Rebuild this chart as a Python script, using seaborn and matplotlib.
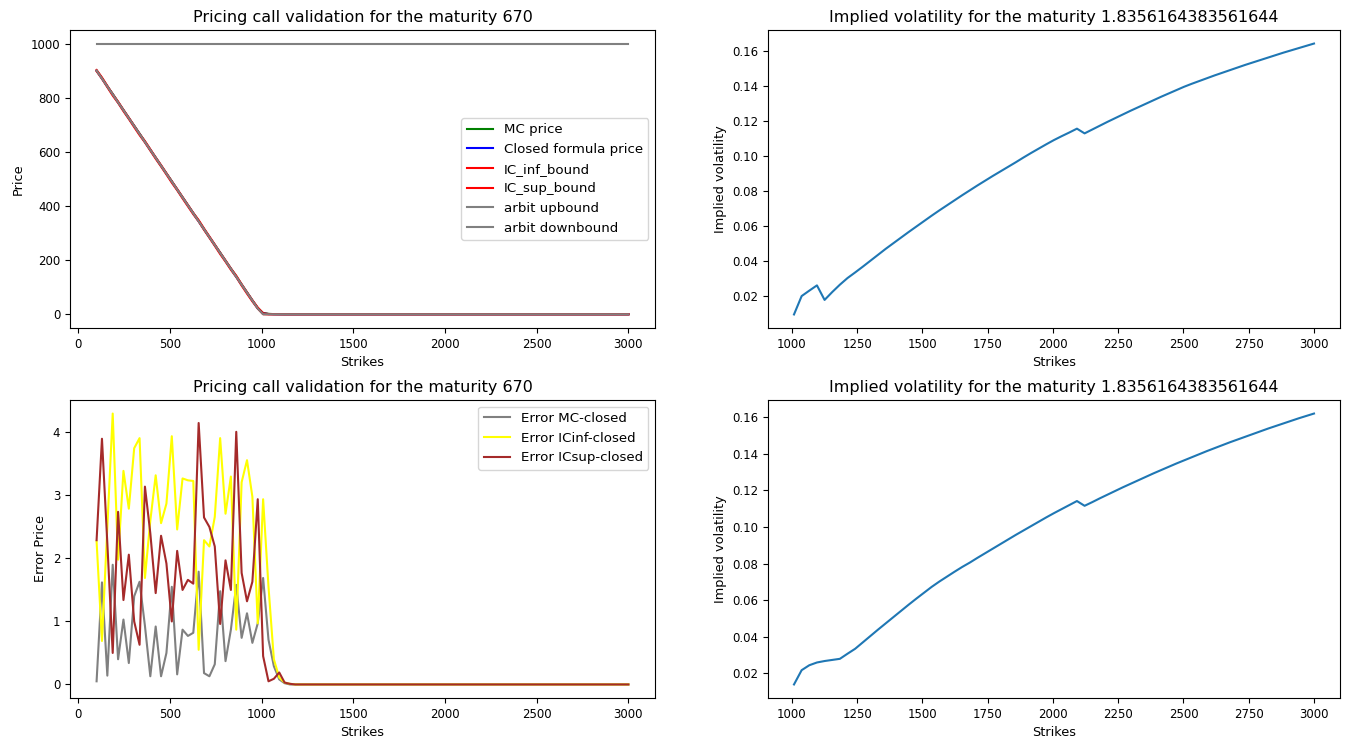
import numpy as np
import matplotlib
matplotlib.use("Agg")
import matplotlib.pyplot as plt
import seaborn as sns

# ---------------- data ----------------
strikes = np.linspace(100, 3000, 100)

# closed formula price (k = 0..34, rest zero)
closed_head = [900.0, 870.7, 841.4, 812.1, 782.8, 753.5, 724.2, 695.0, 665.7, 636.4,
               607.1, 577.8, 548.5, 519.2, 489.9, 460.6, 431.3, 402.0, 372.7, 343.4,
               314.1, 284.8, 255.6, 226.3, 197.0, 167.7, 138.4, 109.1, 79.8, 50.5,
               22.0, 3.0, 0.8, 0.2, 0.05]
closed_price = closed_head + [0.0] * (100 - len(closed_head))

arbit_down_head = [900.0, 870.7, 841.4, 812.1, 782.8, 753.5, 724.2, 695.0, 665.7, 636.4,
                   607.1, 577.8, 548.5, 519.2, 489.9, 460.6, 431.3, 402.0, 372.7, 343.4,
                   314.1, 284.8, 255.6, 226.3, 197.0, 167.7, 138.4, 109.1, 79.8, 50.5,
                   21.2]
arbit_down = arbit_down_head + [0.0] * (100 - len(arbit_down_head))
arbit_up = [1000.0] * 100

err_mc_head = [0.05, 1.62, 0.14, 1.90, 0.40, 1.03, 0.34, 1.40, 1.63, 0.93,
               0.13, 0.92, 0.13, 0.50, 1.55, 0.16, 0.87, 0.77, 0.82, 1.79,
               0.18, 0.13, 0.32, 1.48, 0.37, 0.87, 1.58, 0.74, 1.13, 0.66,
               0.97, 1.69, 0.71, 0.29, 0.08, 0.02]
err_inf_head = [2.27, 0.69, 2.50, 4.30, 1.98, 3.39, 2.79, 3.75, 3.91, 1.69,
                2.60, 3.32, 2.56, 2.87, 3.94, 2.46, 3.27, 3.24, 3.23, 0.55,
                2.29, 2.19, 2.66, 3.91, 2.71, 3.30, 0.87, 3.21, 3.56, 2.98,
                0.97, 2.94, 1.55, 0.40, 0.11, 0.03, 0.01]
err_sup_head = [2.29, 3.90, 2.24, 0.50, 2.74, 1.34, 2.06, 1.00, 0.63, 3.14,
                2.40, 1.45, 2.36, 1.92, 1.00, 2.12, 1.50, 1.66, 1.60, 4.15,
                2.65, 2.50, 2.19, 0.96, 1.97, 1.50, 4.01, 1.77, 1.32, 1.63,
                2.94, 0.45, 0.05, 0.09, 0.19, 0.03, 0.01]
err_mc = err_mc_head + [0.0] * (100 - len(err_mc_head))
err_inf = err_inf_head + [0.0] * (100 - len(err_inf_head))
err_sup = err_sup_head + [0.0] * (100 - len(err_sup_head))

mc_price = [c + e for c, e in zip(closed_price, err_mc)]
ic_inf = [c - e for c, e in zip(closed_price, err_inf)]
ic_sup = [c + e for c, e in zip(closed_price, err_sup)]

vol_start = 31  # implied vol available from strike index 31
vol_top = [0.0097, 0.0202, 0.0233, 0.0263, 0.0180, 0.0225, 0.0267, 0.0305, 0.0337, 0.0370,
           0.0404, 0.0438, 0.0472, 0.0504, 0.0536, 0.0568, 0.0599, 0.0630, 0.0661, 0.0691,
           0.0720, 0.0749, 0.0778, 0.0806, 0.0834, 0.0861, 0.0888, 0.0914, 0.0940, 0.0966,
           0.0993, 0.1019, 0.1044, 0.1069, 0.1093, 0.1115, 0.1136, 0.1158, 0.1131, 0.1153,
           0.1175, 0.1197, 0.1218, 0.1239, 0.1260, 0.1280, 0.1300, 0.1320, 0.1340, 0.1359,
           0.1378, 0.1397, 0.1414, 0.1430, 0.1446, 0.1462, 0.1477, 0.1492, 0.1507, 0.1522,
           0.1536, 0.1550, 0.1564, 0.1578, 0.1592, 0.1605, 0.1618, 0.1631, 0.1644]
vol_bottom = [0.0140, 0.0218, 0.0245, 0.0260, 0.0268, 0.0274, 0.0280, 0.0308, 0.0335, 0.0370,
              0.0405, 0.0440, 0.0474, 0.0508, 0.0542, 0.0576, 0.0609, 0.0641, 0.0673, 0.0702,
              0.0729, 0.0756, 0.0782, 0.0806, 0.0832, 0.0857, 0.0882, 0.0907, 0.0932, 0.0957,
              0.0981, 0.1005, 0.1029, 0.1053, 0.1076, 0.1098, 0.1120, 0.1142, 0.1116, 0.1136,
              0.1157, 0.1177, 0.1197, 0.1217, 0.1236, 0.1255, 0.1274, 0.1293, 0.1311, 0.1329,
              0.1347, 0.1364, 0.1381, 0.1398, 0.1415, 0.1431, 0.1447, 0.1463, 0.1478, 0.1493,
              0.1508, 0.1523, 0.1538, 0.1552, 0.1566, 0.1580, 0.1594, 0.1607, 0.1620]
vol_strikes = strikes[vol_start:]

maturity_days = "670"
maturity_years = "1.8356164383561644"

# ---------------- styling ----------------
plt.rcParams['font.family'] = ['DejaVu Sans']
TITLE_FS = 11.5
LABEL_FS = 9.3
TICK_FS = 8.5
LEGEND_FS = 9.6

W, H = 1357, 740
fig = plt.figure(figsize=(W / 100, H / 100), dpi=100)

def frac(l, t, r, b):
    return [l / W, 1 - b / H, (r - l) / W, (b - t) / H]

ax_tl = fig.add_axes(frac(70, 30, 655, 328))
ax_tr = fig.add_axes(frac(768, 30, 1340, 328))
ax_bl = fig.add_axes(frac(70, 400, 655, 698))
ax_br = fig.add_axes(frac(768, 400, 1340, 698))

# top-left: prices
for vals, col, lab in [(mc_price, 'green', 'MC price'),
                       (closed_price, 'blue', 'Closed formula price'),
                       (ic_inf, 'red', 'IC_inf_bound'),
                       (ic_sup, 'red', 'IC_sup_bound'),
                       (arbit_up, 'grey', 'arbit upbound'),
                       (arbit_down, 'grey', 'arbit downbound')]:
    sns.lineplot(x=strikes, y=vals, color=col, label=lab, ax=ax_tl, linewidth=1.5)
ax_tl.legend(loc='center right', fontsize=LEGEND_FS)
ax_tl.set_title(f"Pricing call validation for the maturity {maturity_days}", fontsize=TITLE_FS)
ax_tl.set_xlabel("Strikes", fontsize=LABEL_FS)
ax_tl.set_ylabel("Price", fontsize=LABEL_FS)

# bottom-left: errors
for vals, col, lab in [(err_mc, 'grey', 'Error MC-closed'),
                       (err_inf, 'yellow', 'Error ICinf-closed'),
                       (err_sup, 'brown', 'Error ICsup-closed')]:
    sns.lineplot(x=strikes, y=vals, color=col, label=lab, ax=ax_bl, linewidth=1.5)
ax_bl.legend(loc='upper right', fontsize=LEGEND_FS)
ax_bl.set_title(f"Pricing call validation for the maturity {maturity_days}", fontsize=TITLE_FS)
ax_bl.set_xlabel("Strikes", fontsize=LABEL_FS)
ax_bl.set_ylabel("Error Price", fontsize=LABEL_FS)

# right: implied vol
for ax, vols in [(ax_tr, vol_top), (ax_br, vol_bottom)]:
    sns.lineplot(x=vol_strikes, y=vols, color='#1f77b4', ax=ax, linewidth=1.5)
    ax.set_title(f"Implied volatility for the maturity {maturity_years}", fontsize=TITLE_FS)
    ax.set_xlabel("Strikes", fontsize=LABEL_FS)
    ax.set_ylabel("Implied volatility", fontsize=LABEL_FS)

for ax in [ax_tl, ax_tr, ax_bl, ax_br]:
    ax.tick_params(labelsize=TICK_FS)

ax_tl.set_xticks([0, 500, 1000, 1500, 2000, 2500, 3000])
ax_bl.set_xticks([0, 500, 1000, 1500, 2000, 2500, 3000])

fig.savefig("out.png", dpi=100)
